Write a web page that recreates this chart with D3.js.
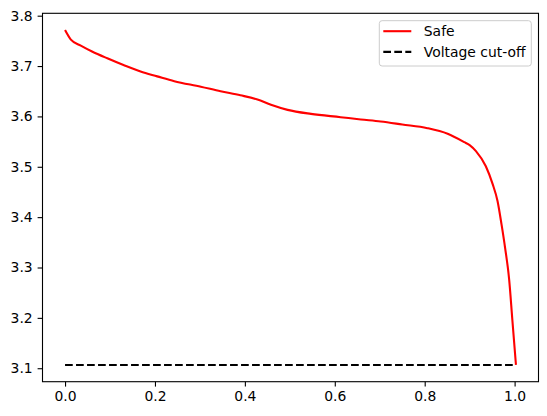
<!DOCTYPE html>
<html>
<head>
<meta charset="utf-8">
<script src="https://cdn.jsdelivr.net/npm/d3@7"></script>
<style>
  body { margin: 0; background: #fff; }
  svg { display: block; }
  .axis text { font-family: "DejaVu Sans", sans-serif; font-size: 13.9px; fill: #000; }
  .axis line { stroke: #000; stroke-width: 1.1; }
</style>
</head>
<body>
<svg id="chart" width="547" height="416"></svg>
<script>
// discharge curve
var capacity = [0, 0.013, 0.035, 0.06, 0.094, 0.13, 0.168, 0.205, 0.243, 0.302, 0.346, 0.39, 0.428, 0.458, 0.495, 0.547, 0.613, 0.658, 0.702, 0.75, 0.806, 0.851, 0.888, 0.9, 0.914, 0.936, 0.951, 0.962, 0.971, 0.979, 0.988, 0.995, 1.003];
var voltage = [3.7715, 3.7524, 3.7406, 3.729, 3.7154, 3.702, 3.689, 3.6795, 3.670, 3.659, 3.650, 3.642, 3.6336, 3.623, 3.613, 3.605, 3.5985, 3.594, 3.590, 3.584, 3.5767, 3.5656, 3.549, 3.543, 3.531, 3.501, 3.466, 3.432, 3.385, 3.338, 3.275, 3.1957, 3.1065];

var cutoffX = [0, 1.003];
var cutoffY = [3.1065, 3.1065];

var xTicks = [0, 0.2, 0.4, 0.6, 0.8, 1.0];
var yTicks = [3.1, 3.2, 3.3, 3.4, 3.5, 3.6, 3.7, 3.8];
var legendLabels = ["Safe", "Voltage cut-off"];

var svg = d3.select("#chart"),
  margin = { top: 13.3, right: 8.5, bottom: 34.3, left: 42.5 },
  width = +svg.attr("width") - margin.left - margin.right,
  height = +svg.attr("height") - margin.top - margin.bottom;

var safe = capacity.map(function(c, i) { return { x: c, y: voltage[i] }; });
var cutoff = cutoffX.map(function(c, i) { return { x: c, y: cutoffY[i] }; });
var all = safe.concat(cutoff);

// matplotlib style 5% margins
function padded(ext) {
  var r = ext[1] - ext[0];
  return [ext[0] - 0.05 * r, ext[1] + 0.05 * r];
}

var x = d3.scaleLinear()
  .domain(padded(d3.extent(all, function(d) { return d.x; })))
  .range([0, width]);
var y = d3.scaleLinear()
  .domain(padded(d3.extent(all, function(d) { return d.y; })))
  .range([height, 0]);

var g = svg.append("g")
  .attr("transform", "translate(" + margin.left + "," + margin.top + ")");

var line = d3.line()
  .x(function(d) { return x(d.x); })
  .y(function(d) { return y(d.y); });

var smooth = d3.line()
  .curve(d3.curveMonotoneX)
  .x(function(d) { return x(d.x); })
  .y(function(d) { return y(d.y); });

g.append("path")
  .datum(safe)
  .attr("fill", "none")
  .attr("stroke", "#ff0000")
  .attr("stroke-width", 2.1)
  .attr("stroke-linejoin", "round")
  .attr("d", smooth);

g.append("path")
  .datum(cutoff)
  .attr("fill", "none")
  .attr("stroke", "#000")
  .attr("stroke-width", 2.1)
  .attr("stroke-dasharray", "7.7,3.3")
  .attr("d", line);

g.append("g")
  .attr("class", "x axis")
  .attr("transform", "translate(0," + height + ")")
  .call(d3.axisBottom(x).tickValues(xTicks).tickFormat(d3.format(".1f"))
    .tickSizeInner(4.9).tickSizeOuter(0).tickPadding(4.9))
  .call(function(a) { a.select(".domain").remove(); });

g.append("g")
  .attr("class", "y axis")
  .call(d3.axisLeft(y).tickValues(yTicks).tickFormat(d3.format(".1f"))
    .tickSizeInner(4.9).tickSizeOuter(0).tickPadding(4.9))
  .call(function(a) { a.select(".domain").remove(); });

g.append("rect")
  .attr("width", width)
  .attr("height", height)
  .attr("fill", "none")
  .attr("stroke", "#000")
  .attr("stroke-width", 1.1);

// legend
var legend = g.append("g")
  .attr("transform", "translate(" + (width - 159.2) + ",7.4)");

legend.append("rect")
  .attr("width", 152)
  .attr("height", 45.3)
  .attr("rx", 2.8)
  .attr("fill", "#fff")
  .attr("fill-opacity", 0.8)
  .attr("stroke", "#cccccc")
  .attr("stroke-width", 1);

var items = legend.selectAll(".item")
  .data(legendLabels)
  .enter()
  .append("g")
  .attr("class", "item")
  .attr("transform", function(d, i) { return "translate(0," + (10.5 + i * 20.7) + ")"; });

items.append("line")
  .attr("x1", 4)
  .attr("x2", 32)
  .attr("stroke", function(d, i) { return i === 0 ? "#ff0000" : "#000"; })
  .attr("stroke-width", 2.1)
  .attr("stroke-dasharray", function(d, i) { return i === 0 ? null : "7.7,3.3"; });

items.append("text")
  .attr("x", 44.5)
  .attr("dy", "0.36em")
  .style("font-family", "'DejaVu Sans', sans-serif")
  .style("font-size", "13.9px")
  .text(function(d) { return d; });
</script>
</body>
</html>
